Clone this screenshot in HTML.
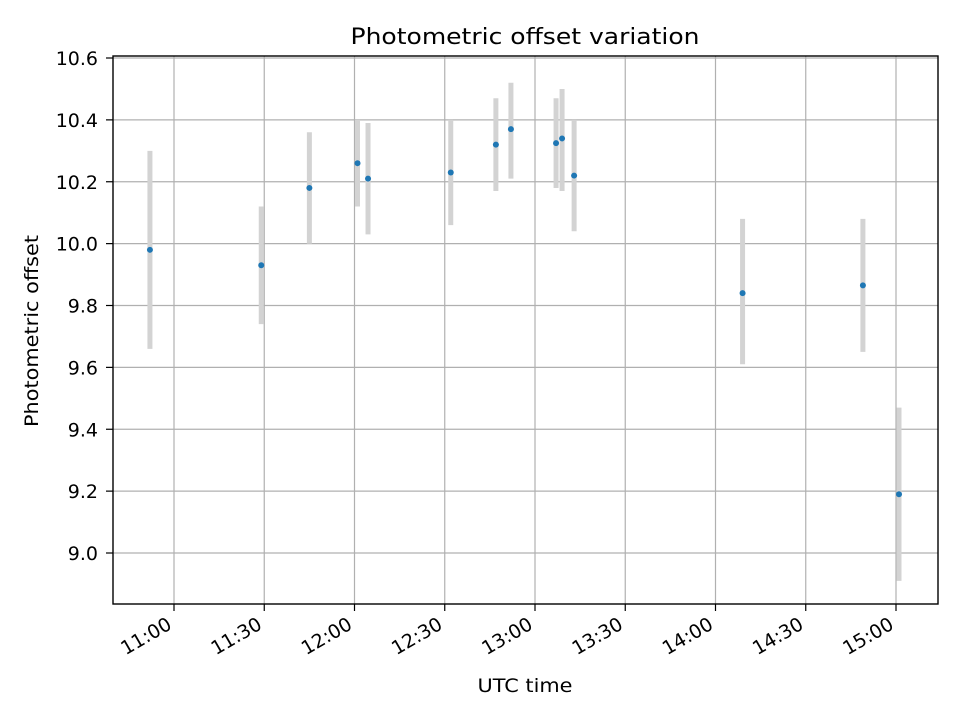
<!DOCTYPE html>
<html><head><meta charset="utf-8"><style>
body{margin:0;background:#fff;}
svg{font-family:"DejaVu Sans","Liberation Sans",sans-serif;}
</style></head><body>
<svg id="chart" width="960" height="720" viewBox="0 0 960 720">
<rect x="0" y="0" width="960" height="720" fill="#fff"/>
<g id="grid"></g>
<g id="errs"></g>
<g id="pts"></g>
<rect x="113" y="56" width="825" height="548" fill="none" stroke="#000" stroke-width="1.4"/>
<g id="axes"></g>
<text x="525" y="44" text-anchor="middle" font-size="22" textLength="349" lengthAdjust="spacingAndGlyphs">Photometric offset variation</text>
<text x="525" y="692" text-anchor="middle" font-size="19" textLength="95" lengthAdjust="spacingAndGlyphs">UTC time</text>
<text transform="translate(38,331) rotate(-90)" text-anchor="middle" font-size="19" textLength="192" lengthAdjust="spacingAndGlyphs">Photometric offset</text>
</svg>
<script>
const times=["10:52","11:29","11:45","12:01","12:04.5","12:32","12:47","12:52","13:07","13:09","13:13","14:09","14:49","15:01"];
const values=[9.98,9.93,10.18,10.26,10.21,10.23,10.32,10.37,10.325,10.34,10.22,9.84,9.865,9.19];
const lows=[9.66,9.74,10.00,10.12,10.03,10.06,10.17,10.21,10.18,10.17,10.04,9.61,9.65,8.91];
const highs=[10.30,10.12,10.36,10.40,10.39,10.40,10.47,10.52,10.47,10.50,10.40,10.08,10.08,9.47];
const yTicks=[9.0,9.2,9.4,9.6,9.8,10.0,10.2,10.4,10.6];
const xTicks=["11:00","11:30","12:00","12:30","13:00","13:30","14:00","14:30","15:00"];
const NS="http://www.w3.org/2000/svg";
function mins(t){const [h,m]=t.split(":");return (+h)*60+parseFloat(m);}
function xs(t){return 174+(mins(t)-660)*(722/240);}
function ys(v){return 553-(v-9.0)*309.375;}
function mk(tag,attrs,parent){const e=document.createElementNS(NS,tag);for(const k in attrs)e.setAttribute(k,attrs[k]);document.getElementById(parent).appendChild(e);return e;}
yTicks.forEach(v=>{
  const y=ys(v);
  const g=mk("line",{x1:113,x2:938,y1:y,y2:y,stroke:"#b0b0b0","stroke-width":1.2},"grid");
  
  
  mk("line",{x1:106,x2:113,y1:y,y2:y,stroke:"#000","stroke-width":1.2},"axes");
  const t=mk("text",{x:98,y:y+7,"text-anchor":"end","font-size":19},"axes");
  t.textContent=v.toFixed(1);
  
  
});
xTicks.forEach(s=>{
  const x=xs(s);
  const g=mk("line",{x1:x,x2:x,y1:56,y2:604,stroke:"#b0b0b0","stroke-width":1.2},"grid");
  
  
  mk("line",{x1:x,x2:x,y1:604,y2:611,stroke:"#000","stroke-width":1.2},"axes");
  const t=mk("text",{transform:`translate(${x-1},${628}) rotate(-30)`,"text-anchor":"end","font-size":19},"axes");
  t.textContent=s;
  
  
});
times.forEach((t,i)=>{
  const x=xs(t);
  const e=mk("line",{x1:x,x2:x,y1:ys(lows[i]),y2:ys(highs[i]),stroke:"#d3d3d3","stroke-width":5},"errs");
  
  
  const c=mk("circle",{cx:x,cy:ys(values[i]),r:3,fill:"#1f77b4"},"pts");
  
  
});
</script>
</body></html>
